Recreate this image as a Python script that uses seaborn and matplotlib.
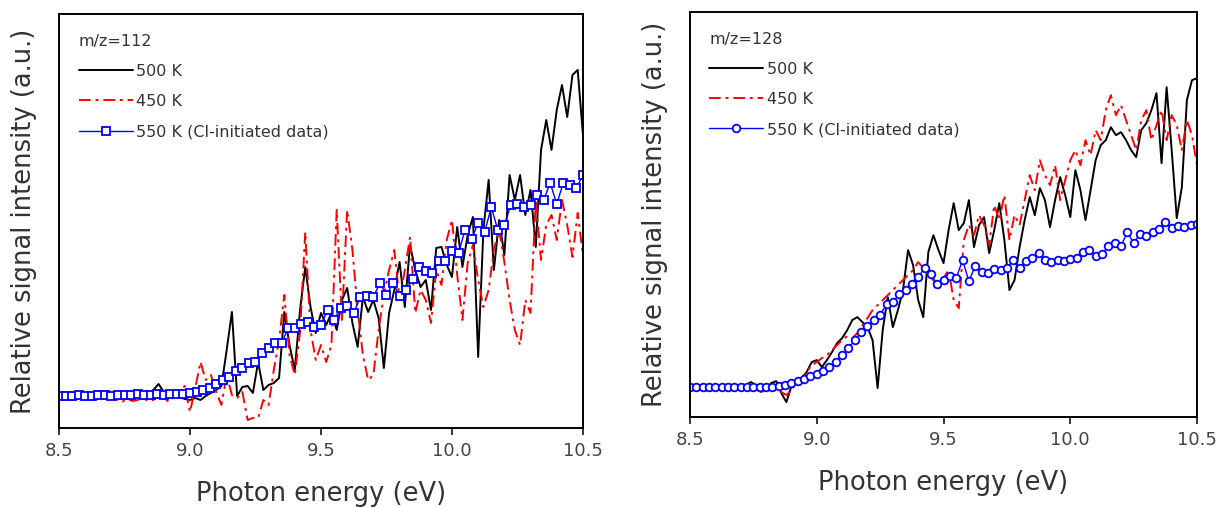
import numpy as np
import matplotlib
matplotlib.use("Agg")
import matplotlib.pyplot as plt
import seaborn as sns

# photon energy grids (eV)
energy_fine = np.round(np.arange(8.5, 10.5001, 0.02), 3)     # 101 points, noisy scans
energy_cl = np.round(np.arange(8.5, 10.5001, 0.025), 3)      # 81 points, Cl-initiated data

# m/z = 112 (arbitrary units)
mz112_500K = [32, 32, 32, 33, 32, 33, 32, 33, 34, 33,
              32, 33, 34, 33, 32, 33, 34, 33, 38, 44,
              36, 32, 34, 31, 29, 28, 30, 28, 32, 35,
              38, 42, 78, 116, 32, 41, 42, 35, 66, 38,
              43, 45, 50, 116, 83, 58, 118, 161, 121, 95,
              115, 103, 115, 98, 128, 140, 105, 81, 131, 116,
              128, 110, 60, 115, 138, 166, 121, 183, 158, 141,
              148, 118, 180, 181, 163, 151, 201, 161, 193, 211,
              71, 198, 248, 158, 208, 173, 253, 228, 253, 213,
              238, 181, 278, 308, 278, 318, 343, 311, 353, 358,
              293]
mz112_450K = [30, 30, 31, 30, 29, 30, 29, 30, 29, 28,
              30, 28, 26, 29, 27, 28, 30, 27, 28, 32,
              30, 26, 32, 36, 42, 16, 40, 66, 48, 53,
              36, 23, 53, 33, 30, 36, 8, 10, 10, 28,
              23, 58, 88, 133, 73, 53, 96, 196, 98, 68,
              83, 66, 83, 218, 108, 218, 178, 118, 73, 48,
              53, 98, 133, 158, 178, 128, 158, 191, 115, 138,
              128, 105, 158, 143, 188, 208, 153, 108, 165, 183,
              148, 121, 138, 178, 198, 166, 128, 98, 83, 128,
              115, 228, 168, 203, 213, 188, 228, 203, 171, 215,
              173]
mz112_550K_cl = [32, 32, 32, 33, 32, 32, 33, 33, 32, 33,
                 33, 33, 34, 33, 33, 34, 33, 34, 34,
                 34, 35, 36, 38, 40, 44, 48, 51, 57, 60,
                 65, 66, 75, 80, 85, 85, 100, 100, 104, 106,
                 101, 103, 118, 108, 120, 122, 115, 131, 132, 131,
                 145, 133, 145, 132, 138, 149, 161, 157, 155, 167,
                 167, 177, 175, 198, 189, 205, 196, 221, 198, 203,
                 223, 224, 221, 223, 233, 228, 245, 224, 245, 243,
                 240, 253]

# m/z = 128 (arbitrary units)
mz128_500K = [30, 30, 29, 30, 31, 30, 29, 30, 31, 30,
              31, 32, 35, 32, 28, 27, 34, 36, 24, 15,
              31, 35, 39, 45, 55, 57, 50, 57, 65, 74,
              79, 87, 97, 100, 95, 90, 77, 29, 87, 120,
              90, 107, 127, 167, 152, 117, 100, 165, 182, 167,
              154, 187, 214, 187, 194, 217, 170, 192, 200, 164,
              187, 214, 177, 127, 137, 170, 197, 220, 202, 229,
              217, 190, 217, 240, 222, 200, 247, 227, 197, 227,
              257, 272, 277, 290, 282, 285, 277, 267, 260, 287,
              294, 307, 324, 254, 330, 267, 199, 230, 317, 337,
              339]
mz128_450K = [28, 27, 29, 26, 28, 27, 29, 26, 28, 27,
              29, 27, 26, 28, 25, 27, 26, 28, 25, 22,
              27, 34, 39, 45, 52, 55, 59, 62, 67, 72,
              77, 81, 79, 84, 92, 99, 107, 112, 117, 122,
              127, 132, 137, 142, 147, 155, 149, 142, 137, 127,
              139, 147, 117, 109, 177, 192, 182, 202, 192, 172,
              212, 197, 222, 177, 202, 192, 217, 242, 227, 257,
              242, 232, 252, 217, 237, 257, 267, 252, 277, 262,
              287, 277, 307, 322, 302, 312, 297, 282, 267, 297,
              307, 277, 292, 307, 277, 302, 292, 267, 297, 282,
              252]
mz128_550K_cl = [30, 30, 30, 30, 30, 30, 30, 30, 30, 30,
                 30, 30, 30, 30, 31, 32, 34, 36, 38, 41,
                 43, 46, 50, 55, 62, 69, 77, 85, 91, 97,
                 102, 113, 115, 123, 127, 133, 140, 149, 143, 133,
                 137, 141, 139, 157, 136, 151, 145, 144, 148, 147,
                 149, 157, 149, 156, 159, 164, 157, 155, 157, 156,
                 158, 159, 165, 167, 161, 163, 171, 174, 171, 185,
                 174, 183, 181, 185, 188, 195, 189, 191, 190, 192,
                 193]

panels = [
    ("m/z=112", mz112_500K, mz112_450K, mz112_550K_cl, "s", 414),
    ("m/z=128", mz128_500K, mz128_450K, mz128_550K_cl, "o", 405),
]
labels = ["500 K", "450 K", "550 K (Cl-initiated data)"]

sns.set_style("ticks")
plt.rcParams["font.family"] = ["DejaVu Sans"]

fig = plt.figure(figsize=(12.17, 5.08), dpi=100)
axes = [fig.add_axes([0.0485, 0.1575, 0.4305, 0.815]),
        fig.add_axes([0.567, 0.179, 0.4166, 0.797])]

for ax, (title, s500, s450, s550, mk, ytop) in zip(axes, panels):
    sns.lineplot(x=energy_fine, y=s500, ax=ax, color="black", lw=1.4,
                 label=labels[0])
    sns.lineplot(x=energy_fine, y=s450, ax=ax, color="red", lw=1.4,
                 linestyle=(0, (6, 2.5, 1.5, 2.5)), label=labels[1])
    sns.lineplot(x=energy_cl, y=s550, ax=ax, color="blue", lw=1.0,
                 marker=mk, markersize=6 if mk == "s" else 5.5,
                 markerfacecolor="white", markeredgecolor="blue",
                 markeredgewidth=1.3, label=labels[2])

    ax.set_xlim(8.5, 10.5)
    ax.set_ylim(0, ytop)
    ax.set_xticks([8.5, 9.0, 9.5, 10.0, 10.5])
    ax.set_xticklabels(["8.5", "9.0", "9.5", "10.0", "10.5"])
    ax.set_yticks([])
    ax.tick_params(axis="x", direction="out", length=5, width=1.3,
                   labelsize=13, labelcolor="#444444", pad=5)
    for sp in ax.spines.values():
        sp.set_visible(True)
        sp.set_linewidth(1.4)
        sp.set_color("black")
    ax.set_xlabel("Photon energy (eV)", fontsize=18.5, color="#333333",
                  labelpad=15)
    ax.set_ylabel("Relative signal intensity (a.u.)", fontsize=18.5,
                  color="#333333", labelpad=16)

    leg = ax.legend(loc="upper left", title=title, frameon=False,
                    fontsize=11.5, title_fontsize=11.5, handlelength=3.4,
                    labelspacing=0.95, handletextpad=0.2,
                    borderaxespad=0.0, bbox_to_anchor=(0.025, 0.968))
    leg._legend_box.align = "left"
    for t in leg.get_texts():
        t.set_color("#333333")
    leg.get_title().set_color("#333333")

fig.savefig("out.png", dpi=100)
